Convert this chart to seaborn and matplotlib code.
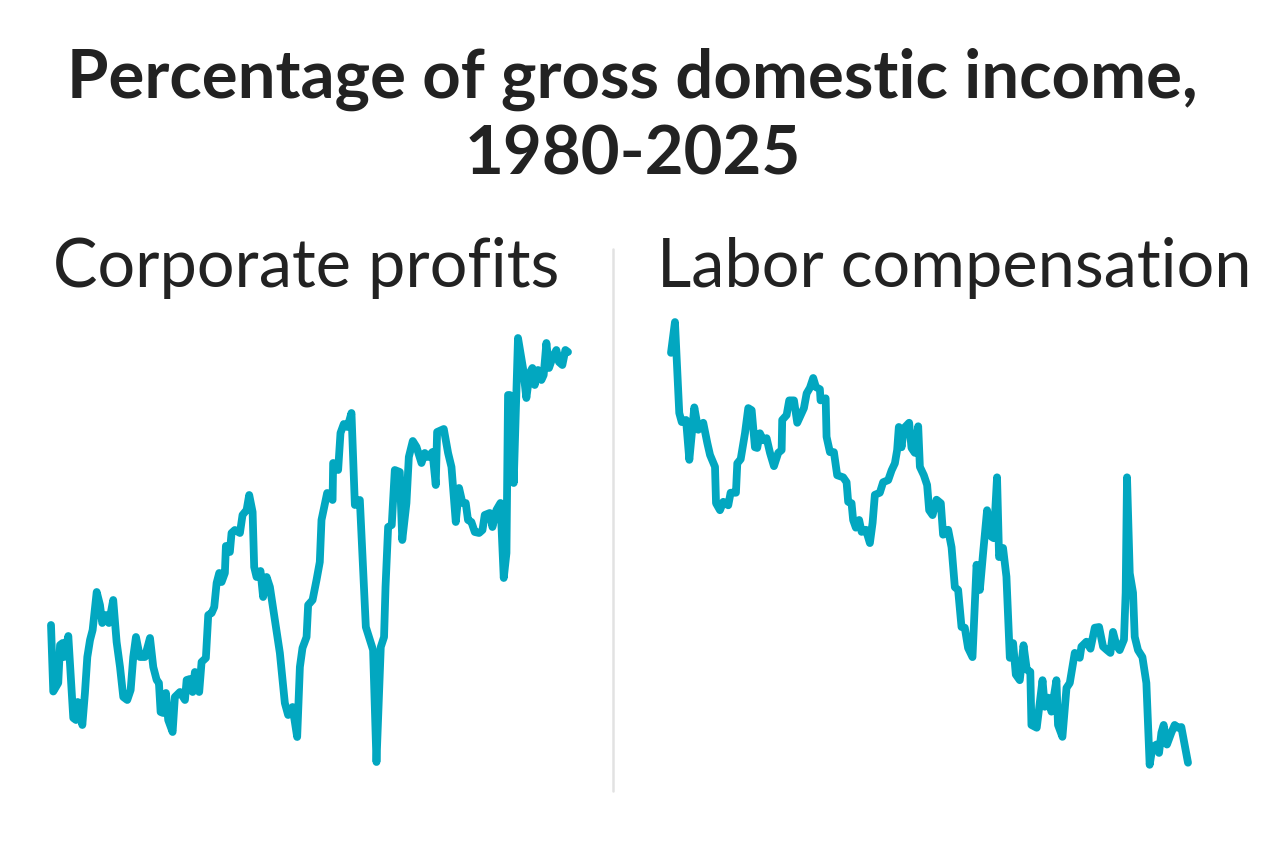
import matplotlib
matplotlib.use('Agg')
import matplotlib.pyplot as plt
from matplotlib.lines import Line2D
import pandas as pd
import seaborn as sns

sns.set_style('white')
plt.rcParams['font.family'] = ['Lato', 'DejaVu Sans']

LINE = '#02a7c0'
INK = '#222222'

# ── Data (% of gross domestic income) ──────────────────────────────────
profit_years = [
    1980.00, 1980.20, 1980.64, 1980.80, 1981.03, 1981.15, 1981.53, 1981.97, 1982.21, 1982.36,
    1982.50, 1982.77, 1983.00, 1983.21, 1983.45, 1983.68, 1984.04, 1984.33, 1984.53, 1984.86,
    1985.12, 1985.50, 1985.80, 1986.10, 1986.39, 1986.74, 1987.04, 1987.27, 1987.51, 1987.86,
    1988.30, 1988.75, 1989.04, 1989.34, 1989.54, 1989.69, 1989.92, 1990.16, 1990.36, 1990.75,
    1990.95, 1991.40, 1991.84, 1991.99, 1992.28, 1992.52, 1992.72, 1993.10, 1993.31, 1993.69,
    1993.90, 1994.20, 1994.43, 1994.64, 1994.87, 1995.08, 1995.37, 1995.46, 1995.81, 1995.96,
    1996.25, 1996.70, 1996.93, 1997.29, 1997.52, 1997.82, 1997.96, 1998.17, 1998.52, 1998.75,
    1999.06, 1999.35, 1999.79, 2000.23, 2000.67, 2000.96, 2001.35, 2001.76, 2002.00, 2002.23,
    2002.59, 2002.73, 2003.12, 2003.47, 2003.76, 2003.91, 2004.41, 2004.89, 2004.94, 2005.38,
    2005.59, 2005.88, 2006.21, 2006.56, 2006.86, 2007.30, 2007.83, 2008.47, 2008.77, 2009.15,
    2009.44, 2009.57, 2009.80, 2010.12, 2010.39, 2010.83, 2011.05, 2011.42, 2011.63, 2011.98,
    2012.31, 2012.75, 2013.04, 2013.33, 2013.72, 2014.01, 2014.13, 2014.72, 2015.10, 2015.40,
    2015.78, 2016.07, 2016.37, 2016.66, 2016.86, 2017.16, 2017.46, 2017.84, 2018.14, 2018.34,
    2018.78, 2019.02, 2019.37, 2019.73, 2020.02, 2020.26, 2020.40, 2020.55, 2020.90, 2021.28,
    2021.72, 2022.02, 2022.31, 2022.55, 2022.76, 2023.05, 2023.35, 2023.55, 2023.79, 2024.02,
    2024.32, 2024.67, 2024.90, 2025.20, 2025.47, 2025.70,
]
profit_share = [
    7.70, 6.37, 6.54, 7.30, 7.34, 7.06, 7.48, 5.84, 5.80, 6.16,
    6.06, 5.70, 6.34, 7.06, 7.40, 7.60, 8.36, 8.10, 7.74, 7.90,
    7.74, 8.20, 7.36, 6.86, 6.26, 6.20, 6.40, 7.06, 7.46, 7.06,
    7.06, 7.44, 6.86, 6.60, 6.54, 5.96, 5.94, 6.34, 5.80, 5.56,
    6.26, 6.36, 6.20, 6.60, 6.62, 6.36, 6.76, 6.36, 6.96, 7.04,
    7.90, 7.94, 8.06, 8.54, 8.74, 8.56, 8.74, 9.28, 9.16, 9.54,
    9.60, 9.54, 9.90, 10.00, 10.30, 9.96, 8.86, 8.66, 8.78, 8.26,
    8.66, 8.46, 7.80, 7.14, 6.14, 5.90, 6.06, 5.46, 6.86, 7.24,
    7.46, 8.10, 8.20, 8.60, 8.96, 9.80, 10.34, 10.20, 10.94, 10.80,
    11.54, 11.72, 11.66, 11.94, 10.10, 10.20, 7.66, 7.20, 4.96, 7.26,
    7.46, 8.46, 9.66, 9.70, 10.80, 10.76, 9.40, 10.14, 11.06, 11.38,
    11.26, 10.94, 11.14, 11.06, 11.16, 10.50, 11.56, 11.62, 11.14, 10.86,
    9.76, 10.44, 10.14, 10.14, 9.80, 9.76, 9.56, 9.54, 9.60, 9.90,
    9.94, 9.66, 10.00, 10.14, 8.64, 9.14, 12.30, 12.30, 10.54, 13.44,
    12.84, 12.24, 12.74, 12.84, 12.50, 12.80, 12.60, 12.70, 13.34, 12.84,
    13.04, 13.20, 12.96, 12.90, 13.20, 13.16,
]

labor_years = [
    1980.00, 1980.35, 1980.73, 1980.95, 1981.33, 1981.62, 1982.06, 1982.41, 1982.85, 1983.21,
    1983.45, 1983.89, 1983.98, 1984.33, 1984.62, 1985.06, 1985.27, 1985.74, 1985.86, 1986.16,
    1986.54, 1986.83, 1987.13, 1987.42, 1987.62, 1987.86, 1988.15, 1988.45, 1988.75, 1989.10,
    1989.48, 1989.78, 1989.83, 1990.22, 1990.45, 1990.87, 1991.16, 1991.55, 1991.75, 1991.99,
    1992.28, 1992.57, 1992.81, 1993.16, 1993.22, 1993.67, 1993.75, 1994.05, 1994.40, 1994.69,
    1995.22, 1995.52, 1995.66, 1995.96, 1996.10, 1996.34, 1996.63, 1996.85, 1997.23, 1997.58,
    1997.82, 1998.02, 1998.46, 1998.75, 1999.20, 1999.50, 1999.79, 1999.99, 2000.14, 2000.38,
    2000.58, 2001.05, 2001.26, 2001.55, 2001.85, 2002.00, 2002.35, 2002.64, 2002.82, 2003.12,
    2003.47, 2003.85, 2004.05, 2004.50, 2004.80, 2005.09, 2005.38, 2005.68, 2005.97, 2006.26,
    2006.65, 2007.01, 2007.30, 2007.59, 2007.94, 2008.33, 2008.53, 2008.82, 2009.00, 2009.35,
    2009.65, 2009.95, 2010.24, 2010.48, 2010.83, 2011.16, 2011.45, 2011.76, 2011.86, 2012.33,
    2012.84, 2013.04, 2013.33, 2013.63, 2014.07, 2014.21, 2014.60, 2014.96, 2015.25, 2015.69,
    2016.13, 2016.28, 2016.72, 2017.08, 2017.46, 2017.84, 2018.19, 2018.54, 2018.84, 2019.07,
    2019.37, 2019.66, 2020.04, 2020.19, 2020.31, 2020.55, 2020.84, 2020.99, 2021.28, 2021.67,
    2022.02, 2022.31, 2022.55, 2022.90, 2023.14, 2023.35, 2023.55, 2023.84, 2024.23, 2024.52,
    2024.81, 2025.11, 2025.70,
]
labor_share = [
    57.89, 58.33, 57.03, 56.90, 56.93, 56.36, 57.11, 56.79, 56.89, 56.60,
    56.43, 56.26, 55.74, 55.64, 55.76, 55.71, 55.89, 55.89, 56.31, 56.37,
    56.74, 57.10, 57.07, 56.54, 56.53, 56.74, 56.64, 56.67, 56.46, 56.27,
    56.46, 56.50, 56.93, 57.00, 57.21, 57.21, 56.89, 57.03, 57.10, 57.31,
    57.39, 57.53, 57.40, 57.37, 57.21, 57.24, 56.69, 56.47, 56.47, 56.14,
    56.11, 56.04, 55.76, 55.74, 55.50, 55.39, 55.50, 55.33, 55.36, 55.17,
    55.46, 55.86, 55.89, 56.04, 56.07, 56.21, 56.31, 56.50, 56.83, 56.54,
    56.81, 56.89, 56.53, 56.46, 56.84, 56.26, 56.14, 56.00, 55.64, 55.57,
    55.79, 55.74, 55.29, 55.36, 55.11, 54.54, 54.50, 53.97, 53.96, 53.67,
    53.54, 54.86, 54.50, 55.03, 55.64, 55.26, 55.24, 56.11, 54.97, 55.10,
    54.69, 53.53, 53.74, 53.29, 53.21, 53.71, 53.36, 53.33, 52.57, 52.53,
    53.21, 52.83, 52.96, 52.76, 53.21, 52.57, 52.40, 53.10, 53.17, 53.60,
    53.53, 53.69, 53.76, 53.66, 53.96, 53.97, 53.69, 53.64, 53.60, 53.90,
    53.71, 53.64, 53.79, 54.46, 56.11, 54.74, 54.46, 53.83, 53.64, 53.54,
    53.17, 52.00, 52.24, 52.29, 52.17, 52.46, 52.57, 52.29, 52.46, 52.57,
    52.53, 52.54, 52.03,
]

profits = pd.DataFrame({'year': profit_years, 'share': profit_share})
labor = pd.DataFrame({'year': labor_years, 'share': labor_share})

# ── Figure ────────────────────────────────────────────────────────────
W, H = 1280, 855
fig = plt.figure(figsize=(W / 100, H / 100), dpi=100)

ax1 = fig.add_axes([51 / W, 1 - 790 / H, 517 / W, 540 / H])
ax2 = fig.add_axes([671 / W, 1 - 790 / H, 517 / W, 540 / H])

for ax, df, ylim in [(ax1, profits, (4.4, 15.2)), (ax2, labor, (51.64, 59.36))]:
    sns.lineplot(data=df, x='year', y='share', ax=ax, color=LINE, lw=5.6,
                 solid_joinstyle='round', solid_capstyle='round', estimator=None,
                 sort=False, clip_on=False)
    ax.set_xlim(1980, 2025.7)
    ax.set_ylim(*ylim)
    ax.axis('off')

# divider between panels
fig.add_artist(Line2D([613 / W, 613 / W], [1 - 249 / H, 1 - 791 / H],
                      color='#e2e2e2', lw=1.8))

fig.text(0.494, 1 - 117 / H, 'Percentage of gross domestic income,\n1980-2025',
         ha='center', va='center', fontsize=48.3, fontweight='bold', color=INK,
         linespacing=1.27)
fig.text(306.5 / W, 1 - 287 / H, 'Corporate profits', ha='center', va='baseline',
         fontsize=48, fontweight='normal', color=INK)
fig.text(954.5 / W, 1 - 287 / H, 'Labor compensation', ha='center', va='baseline',
         fontsize=48, fontweight='normal', color=INK)

fig.savefig('out.png', dpi=100, facecolor='white')
